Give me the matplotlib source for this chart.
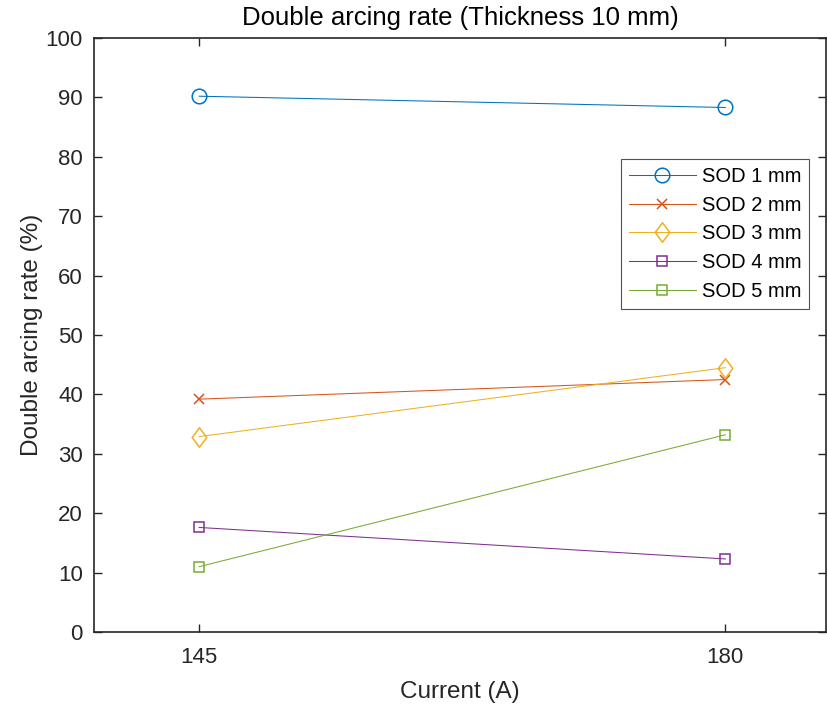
import matplotlib.pyplot as plt
from matplotlib.path import Path

plt.rcParams['font.family'] = ['Liberation Sans', 'DejaVu Sans']

currents = [145, 180]
labels = ["SOD 1 mm", "SOD 2 mm", "SOD 3 mm", "SOD 4 mm", "SOD 5 mm"]
sod1 = [90.2, 88.3]
sod2 = [39.2, 42.5]
sod3 = [32.9, 44.5]
sod4 = [17.6, 12.3]
sod5 = [11.0, 33.2]

colors = ["#0072BD", "#D95319", "#EDB120", "#7E2F8E", "#77AC30"]
# MATLAB-style diamond: taller than wide
diamond = Path([(0, 1), (0.75, 0), (0, -1), (-0.75, 0), (0, 1)],
               [Path.MOVETO, Path.LINETO, Path.LINETO, Path.LINETO, Path.CLOSEPOLY])
markers = ["o", "x", diamond, "s", "s"]
msizes = [10.5, 7.5, 14, 7.5, 7.5]

fig = plt.figure(figsize=(8.28, 7.05), dpi=100)
ax = fig.add_axes([94 / 828, 1 - 632 / 705, (826 - 94) / 828, (632 - 38) / 705])

for vals, lab, c, m, ms in zip([sod1, sod2, sod3, sod4, sod5], labels, colors, markers, msizes):
    ax.plot(currents, vals, color=c, lw=0.75, marker=m, ms=ms,
            mfc='none', mec=c, mew=1.1, label=lab)

ax.set_xlim(138, 186.7)
ax.set_ylim(0, 100)
ax.set_xticks(currents)
ax.set_yticks(range(0, 101, 10))

ax.set_title("Double arcing rate (Thickness 10 mm)", fontsize=18.5, color='#000000', pad=9)
ax.set_xlabel("Current (A)", fontsize=17.5, color='#262626', labelpad=9)
ax.set_ylabel("Double arcing rate (%)", fontsize=17.5, color='#262626', labelpad=2)

ax.tick_params(direction='in', length=6, width=1, top=True, right=True,
               labelsize=16, colors='#262626')
ax.tick_params(axis='x', pad=11)
ax.tick_params(axis='y', pad=8)
for s in ax.spines.values():
    s.set_linewidth(1.2)
    s.set_color('#262626')

leg = ax.legend(loc='upper left', bbox_to_anchor=((621 - 94) / 732, 1 - (159 - 38) / 594),
                fontsize=14.5, frameon=True, fancybox=False, edgecolor='#262626',
                handlelength=3.3, borderpad=0.4, labelspacing=0.48, handletextpad=0.3,
                borderaxespad=0)
leg.get_frame().set_linewidth(0.8)

fig.savefig("out.png", dpi=100)
